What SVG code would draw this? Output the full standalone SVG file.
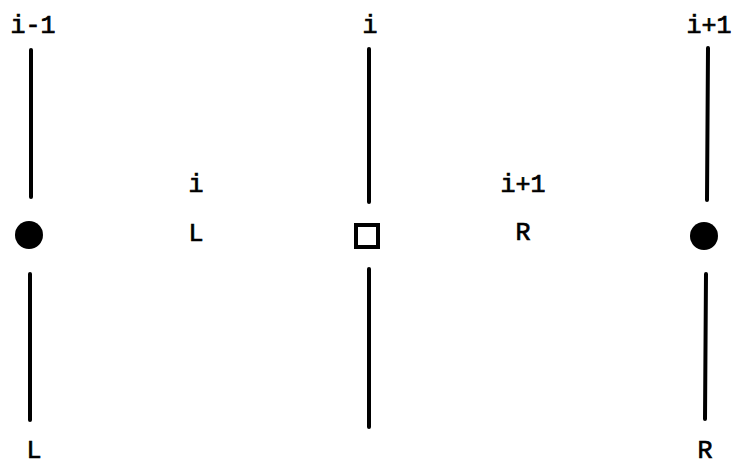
<svg xmlns="http://www.w3.org/2000/svg" width="739" height="468" viewBox="0 0 739 468">
<style>
.t{font-family:"Liberation Mono","Courier New",monospace;font-size:25px;fill:#000;stroke:#000;stroke-width:0.7;text-anchor:middle}
.ln{stroke:#000;stroke-width:4;stroke-linecap:round;fill:none}
</style>
<rect width="739" height="468" fill="#fff"/>
<g id="connectors">
<line class="ln" x1="31" y1="50" x2="31" y2="197"/>
<line class="ln" x1="30" y1="274" x2="30" y2="420"/>
<line class="ln" x1="369" y1="49" x2="369" y2="202"/>
<line class="ln" x1="369" y1="269" x2="369" y2="427"/>
<line class="ln" x1="708" y1="48" x2="707" y2="200"/>
<line class="ln" x1="706" y1="274" x2="705" y2="419"/>
</g>
<g id="node-left"><circle cx="29" cy="235" r="14" fill="#000"/></g>
<g id="node-mid"><rect x="356" y="225" width="22" height="22" fill="none" stroke="#000" stroke-width="4"/></g>
<g id="node-right"><circle cx="704" cy="236" r="14" fill="#000"/></g>
<g id="labels">
<text class="t" x="33" y="33">i-1</text>
<text class="t" x="370" y="33">i</text>
<text class="t" x="709" y="33">i+1</text>
<text class="t" x="196" y="192">i</text>
<text class="t" x="196" y="241">L</text>
<text class="t" x="523" y="192">i+1</text>
<text class="t" x="523" y="240">R</text>
<text class="t" x="34" y="458">L</text>
<text class="t" x="705" y="458">R</text>
</g>
</svg>
